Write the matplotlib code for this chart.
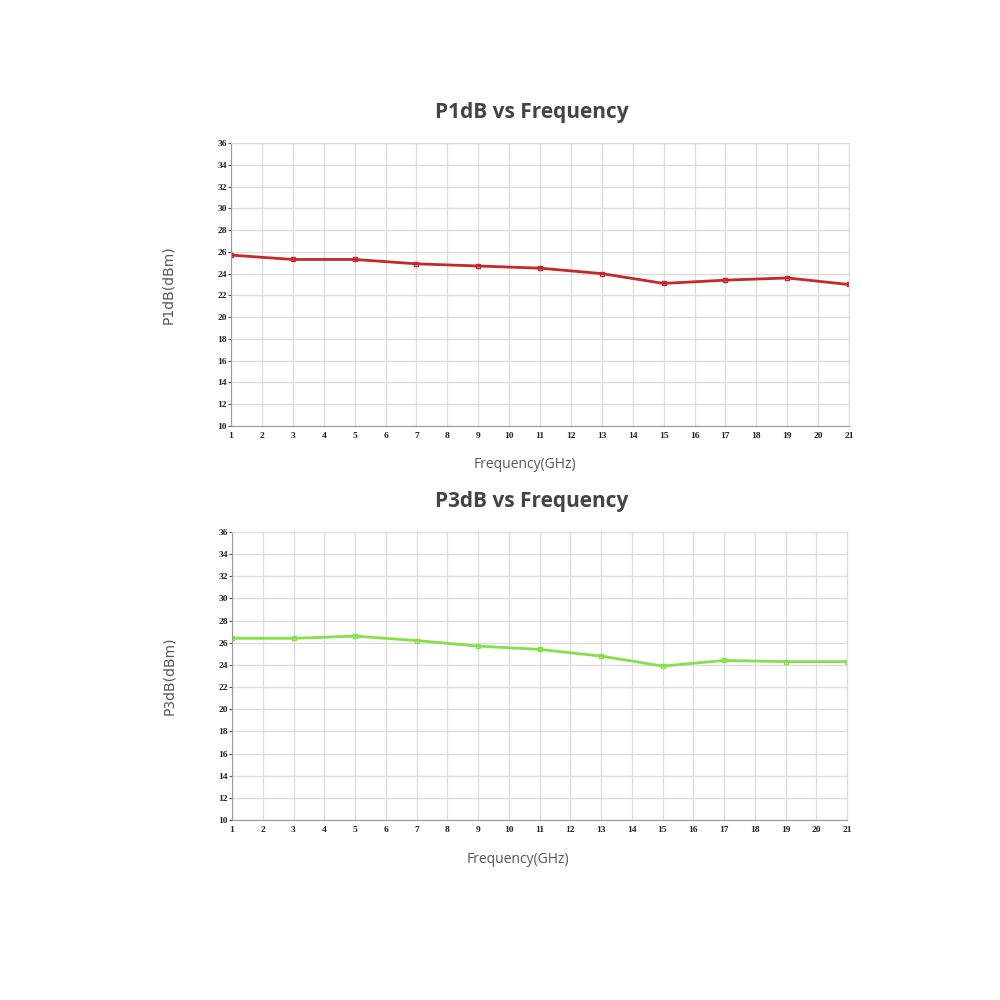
import numpy as np
import matplotlib.pyplot as plt

freq = [1, 3, 5, 7, 9, 11, 13, 15, 17, 19, 21]
p1db = [25.7, 25.3, 25.3, 24.9, 24.7, 24.5, 24.0, 23.1, 23.4, 23.6, 23.0]
p3db = [26.4, 26.4, 26.6, 26.2, 25.7, 25.4, 24.8, 23.9, 24.4, 24.3, 24.3]

x_ticks = list(range(1, 22))
y_ticks = list(range(10, 37, 2))

fig = plt.figure(figsize=(10, 10), dpi=100)

# rect, data, colour, title, ylabel, title x, xlabel x
panels = [
    ([0.231, 0.574, 0.618, 0.283], p1db, '#c4282c', 'P1dB vs Frequency', 'P1dB(dBm)', 0.487, 0.475),
    ([0.232, 0.180, 0.615, 0.288], p3db, '#86e04a', 'P3dB vs Frequency', 'P3dB(dBm)', 0.487, 0.465),
]

for rect, vals, col, title, ylab, tx, lx in panels:
    ax = fig.add_axes(rect)
    ax.plot(freq, vals, color=col, lw=2, marker='s', ms=3.5,
            mfc='none', mec=col, mew=1)
    ax.set_xlim(1, 21)
    ax.set_ylim(10, 36)
    ax.set_xticks(x_ticks)
    ax.set_yticks(y_ticks)
    ax.grid(color='#dddddd', lw=1)
    ax.set_axisbelow(True)
    ax.tick_params(axis='x', length=0, pad=4)
    ax.tick_params(axis='y', length=2, width=0.8, color='#555555', pad=1)
    for lab in ax.get_xticklabels() + ax.get_yticklabels():
        lab.set_fontfamily('Liberation Serif')
        lab.set_fontweight('bold')
        lab.set_fontsize(6.8)
        lab.set_color('#222222')
    for s in ['top', 'right']:
        ax.spines[s].set_color('#dddddd')
    for s in ['left', 'bottom']:
        ax.spines[s].set_color('#999999')
    ax.set_title(title, fontsize=15, fontweight='bold', color='#444444',
                 fontfamily='Open Sans', pad=18, x=tx)
    ax.set_xlabel('Frequency(GHz)', fontsize=10, color='#555555',
                  fontfamily='Open Sans', labelpad=14)
    ax.xaxis.set_label_coords(lx, -0.11)
    ax.set_ylabel(ylab, fontsize=10, color='#555555',
                  fontfamily='DejaVu Sans', labelpad=30)

fig.savefig('out.png', dpi=100, facecolor='white')
